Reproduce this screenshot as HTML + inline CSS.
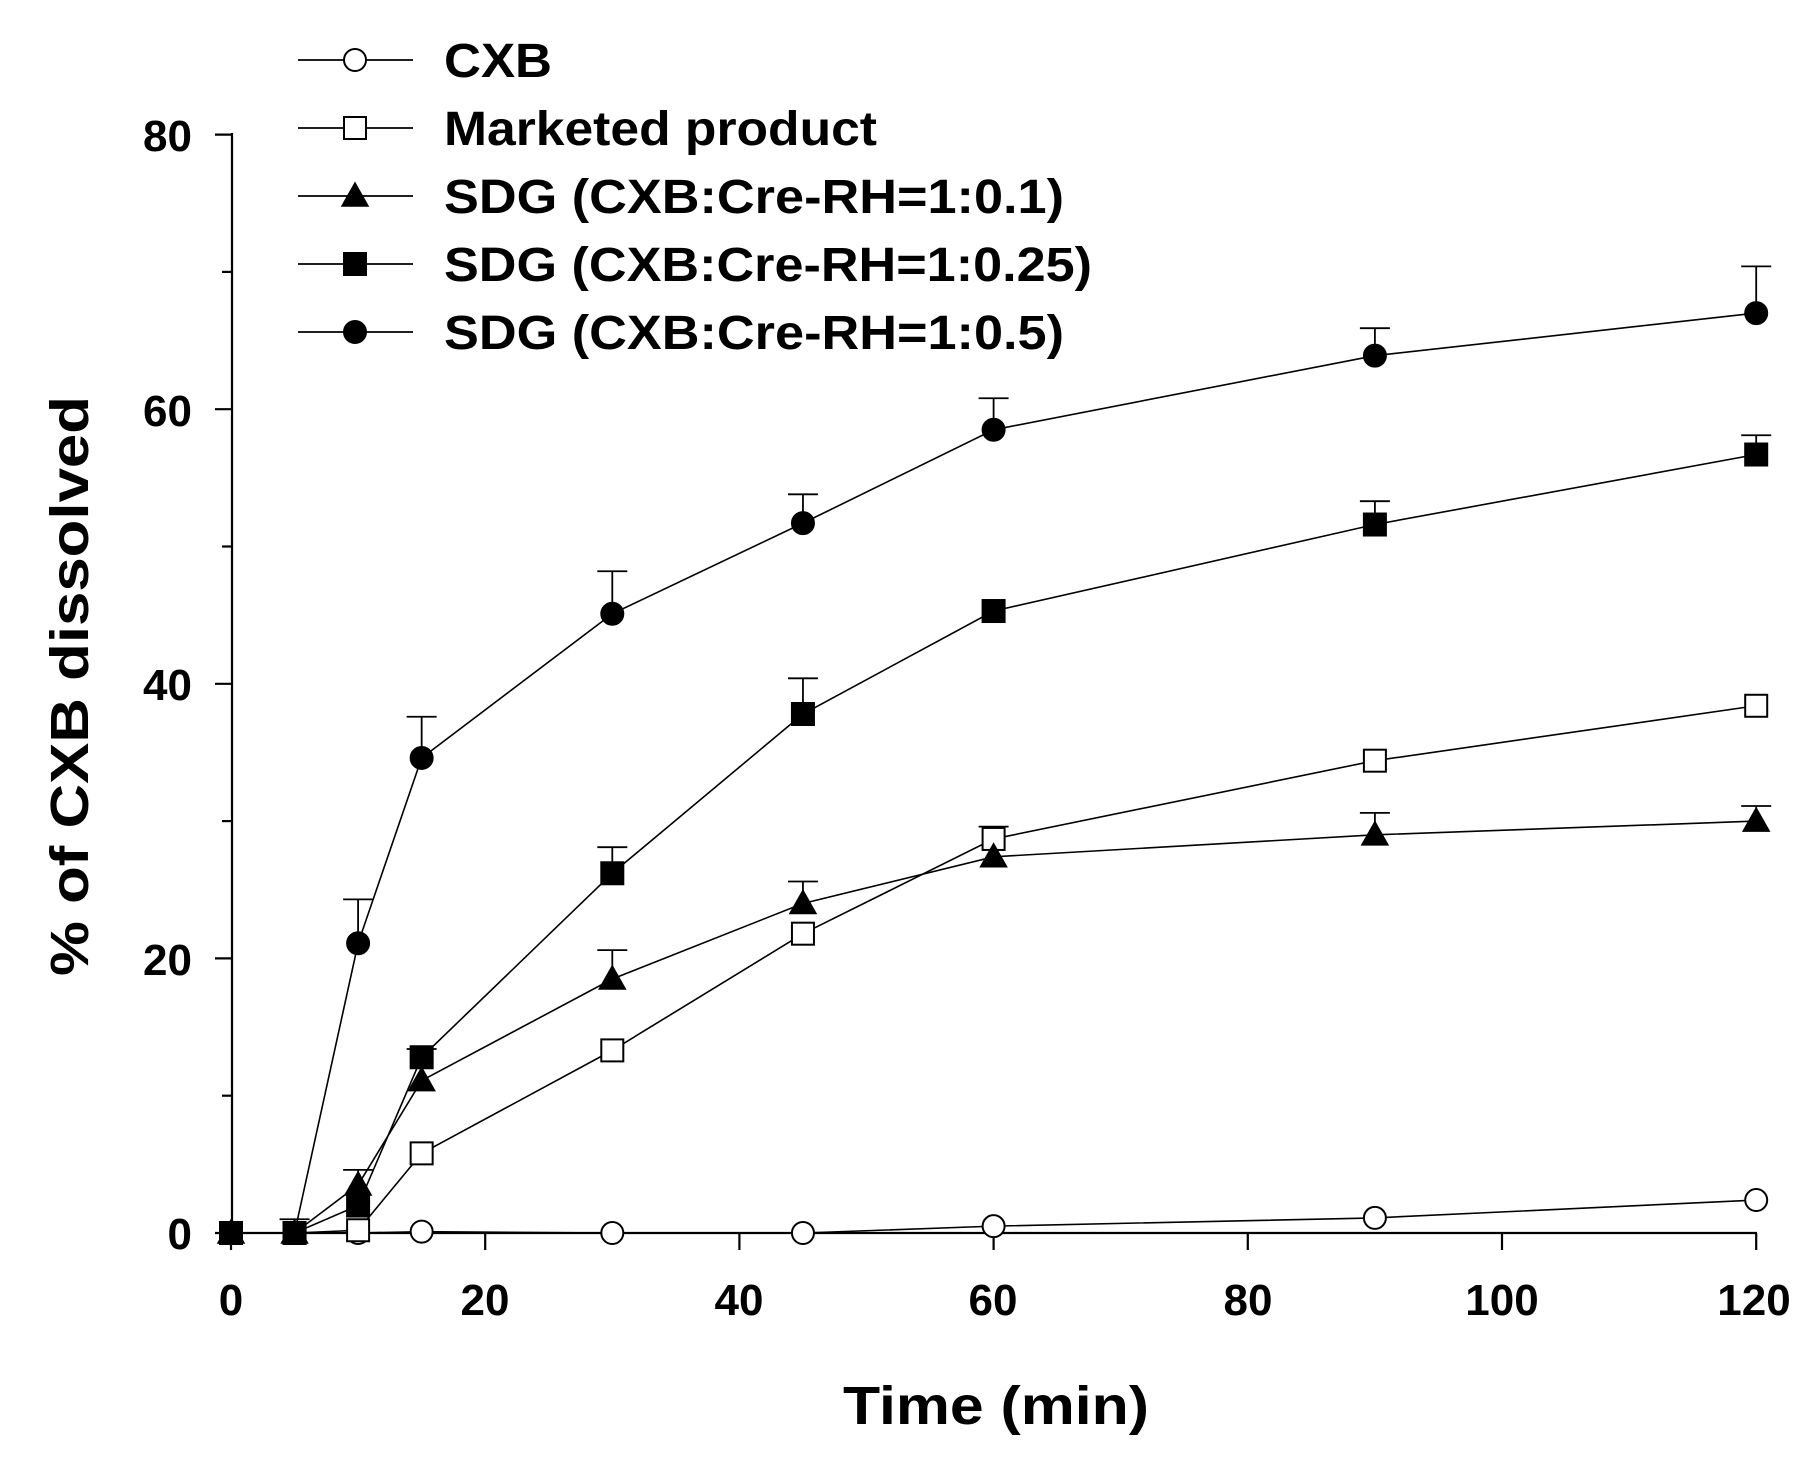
<!DOCTYPE html>
<html><head><meta charset="utf-8"><style>
html,body{margin:0;padding:0;background:#fff;}
svg{display:block;}
text{font-family:"Liberation Sans",Arial,sans-serif;font-weight:bold;fill:#000;}
</style></head><body>
<svg id="s" width="1810" height="1466" viewBox="0 0 1810 1466" xmlns="http://www.w3.org/2000/svg">
<g stroke="#000" stroke-width="2.2" fill="none">
<line x1="232" y1="133" x2="232" y2="1234"/>
<line x1="231" y1="1233" x2="1757" y2="1233"/>
</g>
<g id="ticks" stroke="#000" stroke-width="2.2"></g>
<g font-size="44" text-anchor="end">
<text x="192" y="1249">0</text>
<text x="192" y="975">20</text>
<text x="192" y="700">40</text>
<text x="192" y="426">60</text>
<text x="192" y="151">80</text>
</g>
<g font-size="44" text-anchor="middle">
<text x="231" y="1315">0</text>
<text x="485" y="1315">20</text>
<text x="739" y="1315">40</text>
<text x="993" y="1315">60</text>
<text x="1248" y="1315">80</text>
<text x="1502" y="1315">100</text>
<text x="1754" y="1315">120</text>
</g>
<text x="996" y="1424" font-size="54" text-anchor="middle" textLength="306" lengthAdjust="spacingAndGlyphs">Time (min)</text>
<text transform="translate(88,686) rotate(-90)" font-size="54" text-anchor="middle" textLength="580" lengthAdjust="spacingAndGlyphs">% of CXB dissolved</text>
<g font-size="48">
<text x="444" y="77" textLength="108" lengthAdjust="spacingAndGlyphs">CXB</text>
<text x="444" y="145" textLength="433" lengthAdjust="spacingAndGlyphs">Marketed product</text>
<text x="444" y="213" textLength="620" lengthAdjust="spacingAndGlyphs">SDG (CXB:Cre-RH=1:0.1)</text>
<text x="444" y="281" textLength="648" lengthAdjust="spacingAndGlyphs">SDG (CXB:Cre-RH=1:0.25)</text>
<text x="444" y="349" textLength="620" lengthAdjust="spacingAndGlyphs">SDG (CXB:Cre-RH=1:0.5)</text>
</g>
<g id="plot"></g>
</svg>
<script>
var NS="http://www.w3.org/2000/svg";
function X(t){return 231+12.71*t;}
function Y(v){return 1233-13.73*v;}
function el(p,n,a){var e=document.createElementNS(NS,n);for(var k in a)e.setAttribute(k,a[k]);p.appendChild(e);return e;}
var tk=document.getElementById("ticks");
for(var v=0;v<=80;v+=10){var len=(v%20==0)?17:10;el(tk,"line",{x1:232-len,y1:Y(v),x2:232,y2:Y(v)});}
for(var t=0;t<=120;t+=20){el(tk,"line",{x1:X(t),y1:1233,x2:X(t),y2:1250});}
var T=[0,5,10,15,30,45,60,90,120];
var S=[
 {m:"oc",d:[0,0,0,0.1,0,0,0.5,1.1,2.4],e:[]},
 {m:"os",d:[0,0,0.2,5.8,13.3,21.8,28.7,34.4,38.4],e:[0,0,0,0,0,0,29.6,0,0]},
 {m:"ft",d:[0,0,3.5,11.1,18.5,24,27.4,29,30],e:[0,0,4.6,0,20.6,25.6,0,30.6,31.1]},
 {m:"fs",d:[0,0,2,12.8,26.2,37.8,45.3,51.6,56.7],e:[0,0,0,13.4,28.1,40.4,0,53.3,58.1]},
 {m:"fc",d:[0,0,21.1,34.6,45.1,51.7,58.5,63.9,67],e:[0,1,24.3,37.6,48.2,53.8,60.8,65.9,70.4]}
];
var P=document.getElementById("plot");
function marker(g,m,x,y){
 var f=m[0]=="f"?"#000":"#fff";
 if(m[1]=="c")el(g,"circle",{cx:x,cy:y,r:11,fill:f,stroke:"#000","stroke-width":2});
 else if(m[1]=="s")el(g,"rect",{x:x-11,y:y-11,width:22,height:22,fill:f,stroke:"#000","stroke-width":2});
 else el(g,"polygon",{points:(x)+","+(y-13)+" "+(x-13)+","+(y+10)+" "+(x+13)+","+(y+10),fill:f,stroke:"#000","stroke-width":1.5});
}
S.forEach(function(s){
 var g=el(P,"g",{});
 var pts=T.map(function(t,i){return X(t)+","+Y(s.d[i]);}).join(" ");
 el(g,"polyline",{points:pts,fill:"none",stroke:"#000","stroke-width":1.6});
 s.e.forEach(function(e,i){if(e>0){var x=X(T[i]);el(g,"line",{x1:x,y1:Y(s.d[i]),x2:x,y2:Y(e),stroke:"#000","stroke-width":1.8});el(g,"line",{x1:x-15,y1:Y(e),x2:x+15,y2:Y(e),stroke:"#000","stroke-width":1.8});}});
});
S.forEach(function(s){var g=el(P,"g",{});T.forEach(function(t,i){marker(g,s.m,X(t),Y(s.d[i]));});});
var ly=[60,128,196,264,332];
S.forEach(function(s,i){el(P,"line",{x1:298,y1:ly[i],x2:413,y2:ly[i],stroke:"#000","stroke-width":1.8});marker(P,s.m,355,ly[i]);});
</script>
</body></html>
